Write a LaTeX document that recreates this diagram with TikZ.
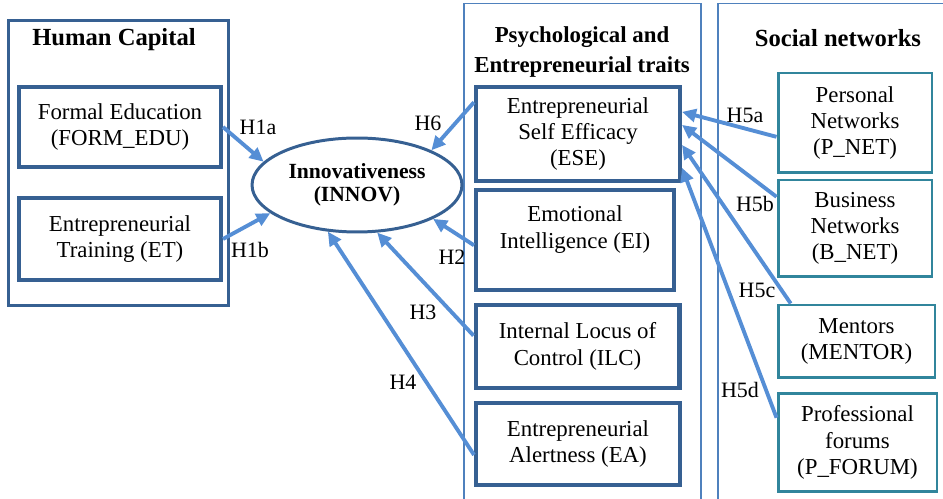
\documentclass[tikz,border=0pt]{standalone}
\usepackage{fontspec}
\setmainfont{Liberation Serif}
\usetikzlibrary{shapes.geometric,arrows.meta}
\definecolor{boxblue}{RGB}{54,96,146}
\definecolor{arrowblue}{RGB}{85,142,213}
\definecolor{netteal}{RGB}{49,133,156}
\definecolor{frameblue}{RGB}{79,129,189}
\begin{document}
\begin{tikzpicture}
[x=0.02cm,y=-0.02cm,
 inbox/.style={draw=boxblue,line width=2.3pt,align=center,inner sep=0pt,
   font=\fontsize{13}{15}\selectfont},
 netbox/.style={draw=netteal,line width=1.7pt,align=center,inner sep=0pt,
   font=\fontsize{13}{15}\selectfont},
 frame/.style={draw=frameblue,line width=0.9pt,inner sep=0pt},
 title/.style={font=\fontsize{14}{17}\selectfont\bfseries,align=center},
 hyp/.style={draw=arrowblue,line width=2.2pt,-{Triangle[length=2.8mm,width=2.6mm]}},
 hlab/.style={font=\fontsize{12.5}{14}\selectfont,inner sep=0pt}]
\useasboundingbox (0,0) rectangle (943,499);
\node[frame,draw=boxblue,line width=1.7pt,minimum width=4.42cm,minimum height=5.72cm](hc) at (118.5,163) {};
\node[frame,minimum width=4.74cm,minimum height=10.1cm](pet) at (582.5,256) {};
\node[frame,minimum width=4.64cm,minimum height=10.1cm](sn) at (834,256) {};
\node[title](hctitle) at (114,40) {Human Capital};
\node[title,font=\fontsize{13}{17.6}\selectfont\bfseries](pettitle) at (582,52) {Psychological and\\Entrepreneurial traits};
\node[title](sntitle) at (838,38) {Social networks};
\node[inbox,minimum width=4.04cm,minimum height=1.6cm](formedu) at (120,127) {Formal Education\\(FORM\_EDU)};
\node[inbox,minimum width=4.04cm,minimum height=1.64cm](et) at (120,239) {Entrepreneurial\\Training (ET)};
\node[draw=boxblue,line width=1.7pt,ellipse,minimum width=4.2cm,minimum height=1.88cm,inner sep=0pt,
  align=center,font=\fontsize{12.3}{13}\selectfont\bfseries](innov) at (357,185) {Innovativeness\\(INNOV)};
\node[inbox,minimum width=4.08cm,minimum height=1.88cm](ese) at (578,134) {Entrepreneurial\\Self Efficacy\\(ESE)};
\node[inbox,minimum width=3.96cm,minimum height=2cm](ei) at (575,240) {};
\node[align=center,font=\fontsize{13}{15}\selectfont](eitext) at (575,229.5) {Emotional\\Intelligence (EI)};
\node[inbox,minimum width=4.08cm,minimum height=1.66cm](ilc) at (577.5,346.5) {Internal Locus of\\Control (ILC)};
\node[inbox,minimum width=4.08cm,minimum height=1.64cm](ea) at (578,444) {Entrepreneurial\\Alertness (EA)};
\node[netbox,minimum width=3.08cm,minimum height=2cm](pnet) at (855,123) {Personal\\Networks\\(P\_NET)};
\node[netbox,minimum width=3.08cm,minimum height=1.94cm](bnet) at (855,228.5) {Business\\Networks\\(B\_NET)};
\node[netbox,minimum width=3.14cm,minimum height=1.46cm](mentor) at (856.5,341.5) {Mentors\\(MENTOR)};
\node[netbox,minimum width=3.18cm,minimum height=1.98cm](pforum) at (857.5,442.5) {Professional\\forums\\(P\_FORUM)};
\draw[hyp] (formedu.east) -- (innov.166);
\draw[hyp] (et.east) -- (innov.198);
\draw[hyp] (ese.163) -- (innov.25);
\draw[hyp] (ei.183) -- (innov.336);
\draw[hyp] (ilc.174) -- (innov.293);
\draw[hyp] (ea.186) -- (innov.238);
\draw[hyp] (pnet.190) -- (ese.12);
\draw[hyp] (bnet.158) -- (ese.5);
\draw[hyp] (mentor.150) -- (ese.354);
\draw[hyp] (pforum.163) -- (ese.342);
\node[hlab](h1a) at (258,127) {H1a};
\node[hlab](h1b) at (250,250) {H1b};
\node[hlab](h6) at (428,123) {H6};
\node[hlab](h2) at (452,257) {H2};
\node[hlab](h3) at (423,312) {H3};
\node[hlab](h4) at (403,382) {H4};
\node[hlab](h5a) at (745,115) {H5a};
\node[hlab](h5b) at (755,204) {H5b};
\node[hlab](h5c) at (757,290) {H5c};
\node[hlab](h5d) at (740,390) {H5d};
\end{tikzpicture}
\end{document}
